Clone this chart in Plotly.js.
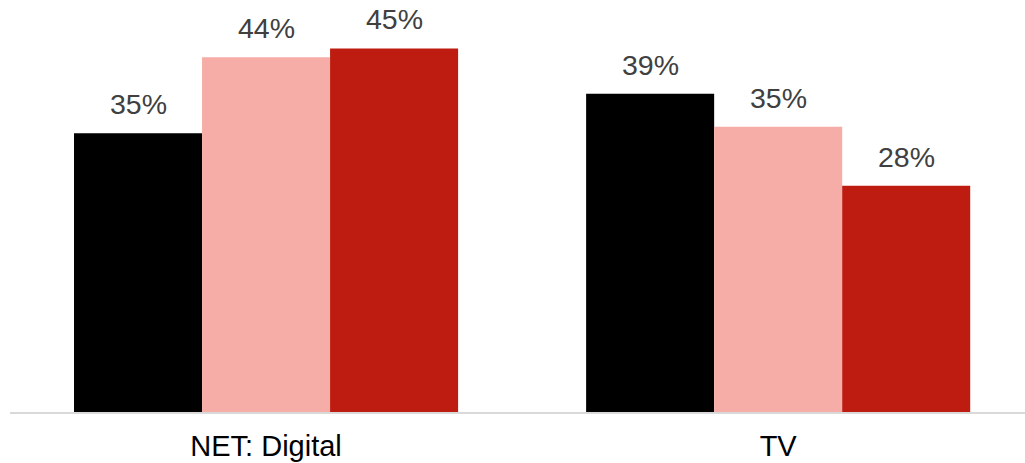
<!DOCTYPE html>
<html>
<head>
<meta charset="utf-8">
<script src="https://cdn.plot.ly/plotly-3.0.1.min.js"></script>
<style>html,body{margin:0;padding:0;background:#fff;overflow:hidden}#chart{width:1025px;height:463px}</style>
</head>
<body>
<div id="chart"></div>
<script>
const categories = ["NET: Digital", "TV"];
const seriesA = [34.5, 39.4];
const seriesB = [43.9, 35.3];
const seriesC = [45.0, 28.0];
const labelsA = ["35%", "39%"];
const labelsB = ["44%", "35%"];
const labelsC = ["45%", "28%"];

const series = [
  {name: "A", values: seriesA, labels: labelsA, color: "#000000"},
  {name: "B", values: seriesB, labels: labelsB, color: "#F6ADA7"},
  {name: "C", values: seriesC, labels: labelsC, color: "#BE1C11"}
];

const bargap = 0.25;
const nSeries = series.length;
const barW = (1 - bargap) / nSeries;

const traces = series.map(s => ({
  type: "bar",
  name: s.name,
  x: categories,
  y: s.values,
  marker: {color: s.color, line: {width: 0}},
  hoverinfo: "skip"
}));

const annotations = [];
series.forEach((s, i) => {
  const off = -(1 - bargap) / 2 + barW / 2 + i * barW;
  s.values.forEach((v, j) => {
    annotations.push({
      x: j + off, y: v, xref: "x", yref: "y",
      text: s.labels[j], showarrow: false,
      xanchor: "center", yanchor: "bottom", yshift: 11,
      font: {family: "Liberation Sans, Arial, sans-serif", size: 28.5, color: "#404040"}
    });
  });
});

const layout = {
  width: 1025, height: 463,
  margin: {l: 10, r: 0, t: 0, b: 51},
  paper_bgcolor: "#ffffff", plot_bgcolor: "#ffffff",
  barmode: "group", bargap: bargap, bargroupgap: 0,
  showlegend: false,
  font: {family: "Liberation Sans, Arial, sans-serif", size: 28.5, color: "#000000"},
  xaxis: {
    type: "category", range: [-0.5, 1.482],
    showline: true, linecolor: "#d9d9d9", linewidth: 1.5,
    showgrid: false, zeroline: false, ticks: "", ticklabelstandoff: 8,
    tickfont: {family: "Liberation Sans, Arial, sans-serif", size: 29, color: "#000000"},
    fixedrange: true
  },
  yaxis: {
    range: [0, 51], visible: false, showgrid: false, zeroline: false, fixedrange: true
  },
  annotations: annotations
};

Plotly.newPlot("chart", traces, layout, {staticPlot: true, displayModeBar: false});
</script>
</body>
</html>
